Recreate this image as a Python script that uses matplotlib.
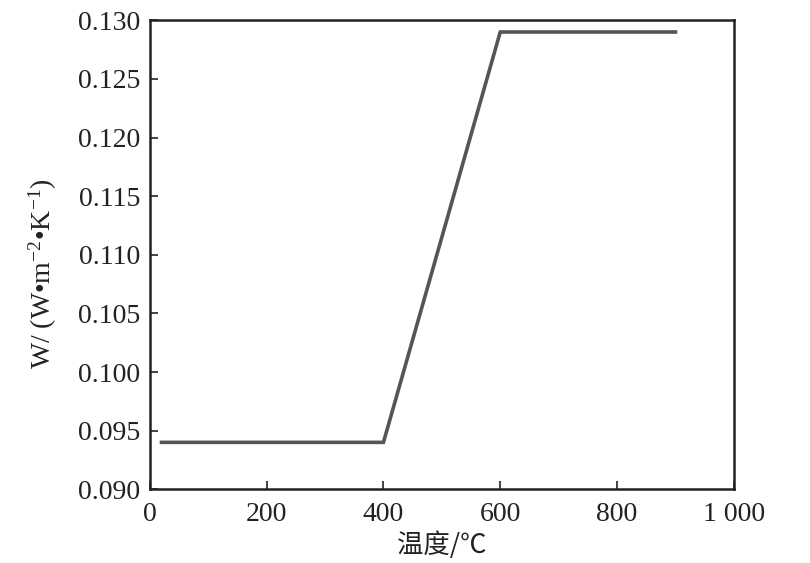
import matplotlib.pyplot as plt

plt.rcParams['font.family'] = ['Liberation Serif', 'DejaVu Serif']
plt.rcParams['mathtext.fontset'] = 'custom'
plt.rcParams['mathtext.rm'] = 'Liberation Serif'
plt.rcParams['mathtext.it'] = 'Liberation Serif:italic'

# temperature (C) and heat transfer coefficient W
temperature = [20, 400, 600, 900]
w_values = [0.094, 0.094, 0.129, 0.129]

x_ticks = [0, 200, 400, 600, 800, 1000]
x_tick_labels = ['0', '200', '400', '600', '800', '1 000']
y_ticks = [0.090, 0.095, 0.100, 0.105, 0.110, 0.115, 0.120, 0.125, 0.130]
y_tick_labels = ['%.3f' % v for v in y_ticks]

fig = plt.figure(figsize=(8.1, 5.63), dpi=100)
ax = fig.add_axes([0.185, 0.131, 0.721, 0.833])

ax.plot(temperature, w_values, color='#555555', linewidth=2.6, solid_joinstyle='miter')

ax.set_xlim(0, 1000)
ax.set_ylim(0.090, 0.130)
ax.set_xticks(x_ticks)
ax.set_xticklabels(x_tick_labels)
ax.set_yticks(y_ticks)
ax.set_yticklabels(y_tick_labels)
ax.tick_params(direction='in', length=6, width=1.2, labelsize=20, colors='#222222')
ax.tick_params(axis='x', pad=9)
ax.tick_params(axis='y', pad=7)

for s in ax.spines.values():
    s.set_linewidth(1.8)
    s.set_color('#222222')

ax.set_xlabel('温度/℃', family=['Noto Sans CJK SC', 'DejaVu Sans'], fontsize=19, color='#222222', labelpad=3)
ax.set_ylabel('W/ (W•m$^{-2}$•K$^{-1}$)', fontsize=20, color='#222222')
ax.yaxis.set_label_coords(-0.155, 0.46)

fig.savefig('out.png', dpi=100)
